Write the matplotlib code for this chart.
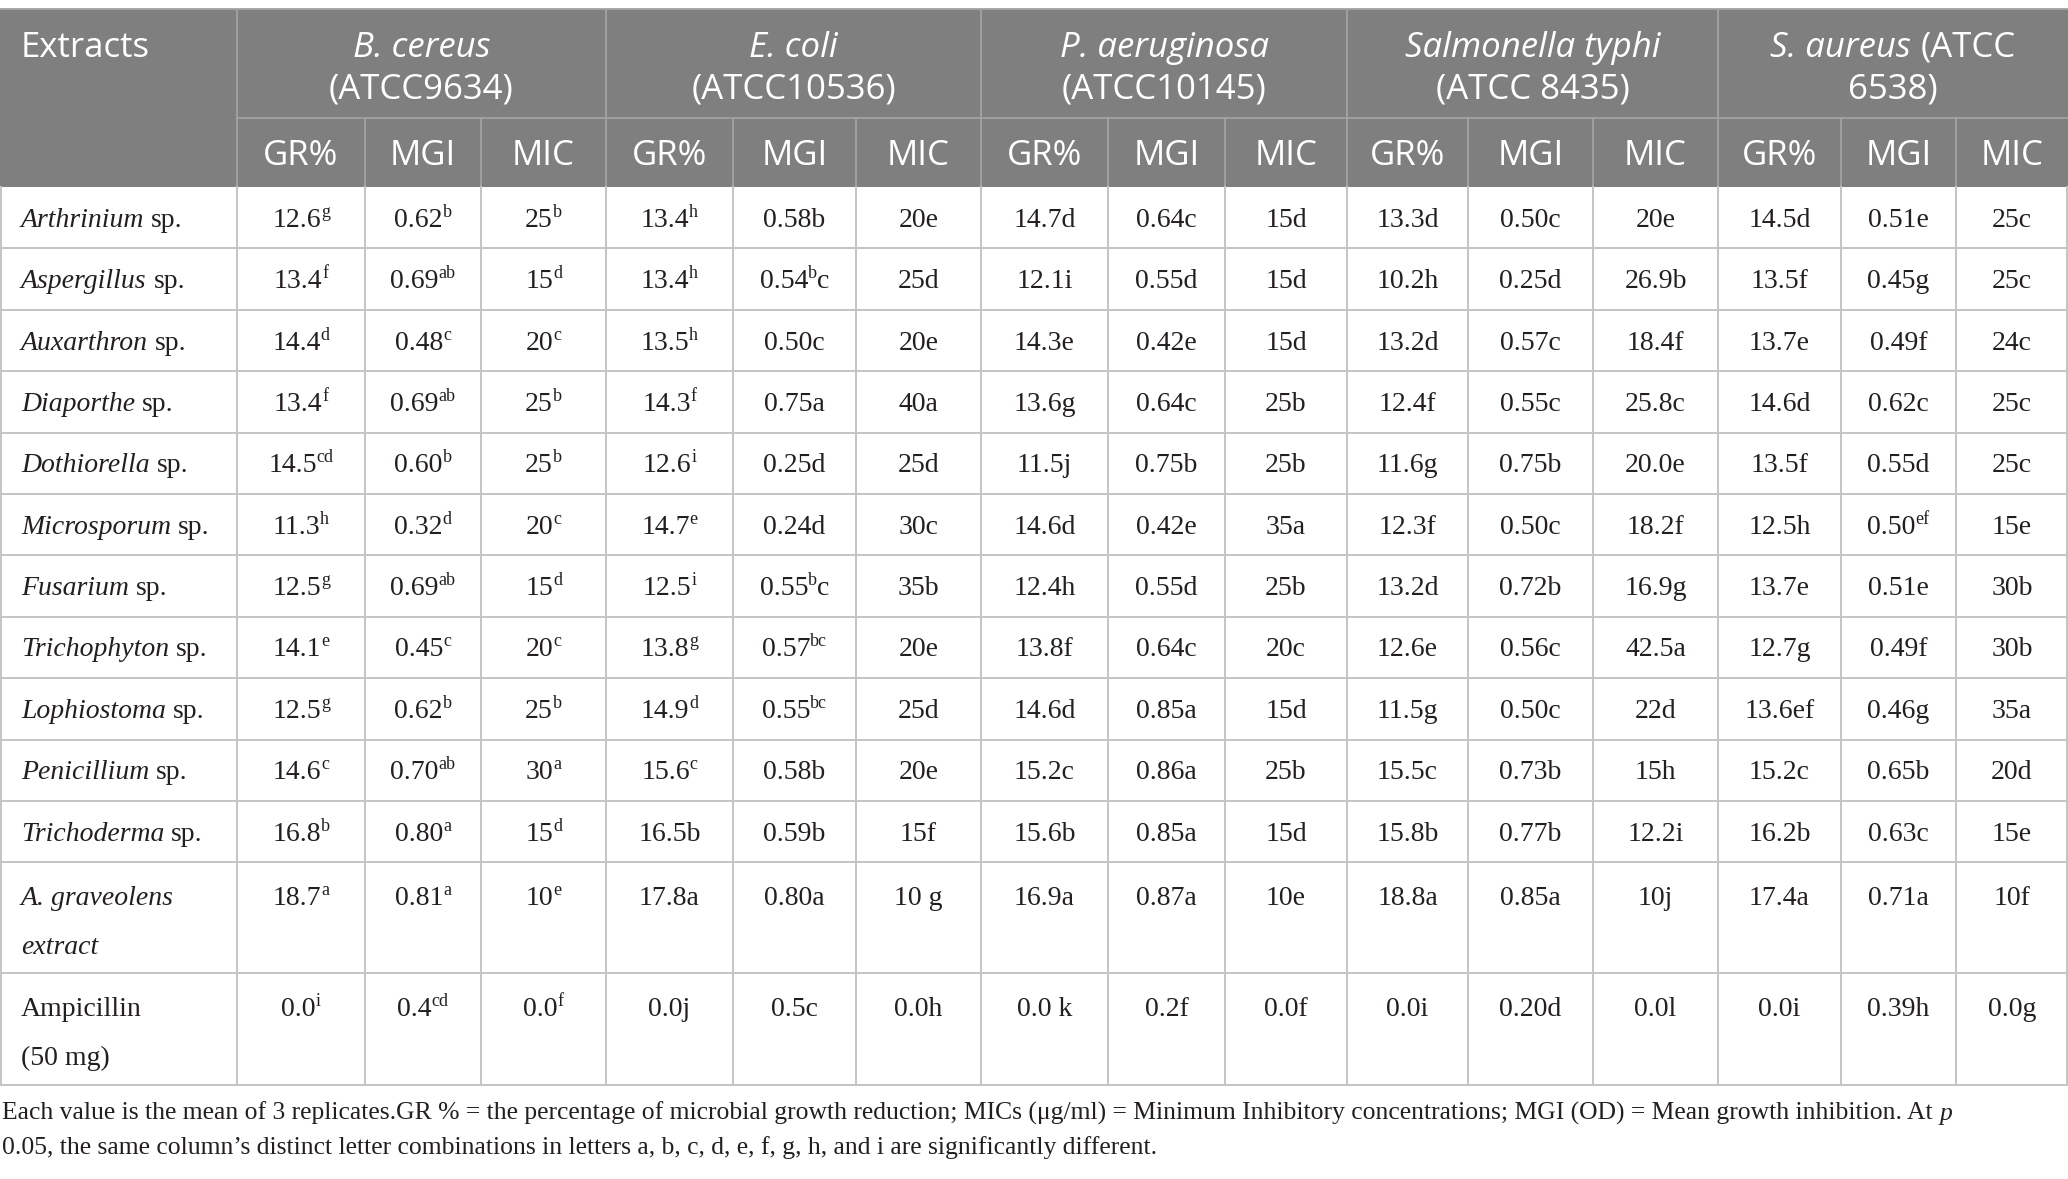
import re
import matplotlib
matplotlib.use("Agg")
import matplotlib.pyplot as plt

# ---- data (values as printed, ^{..} = superscript letters, *..* = italic) ----
extracts = ["*Arthrinium* sp.", "*Aspergillus* sp.", "*Auxarthron* sp.", "*Diaporthe* sp.",
            "*Dothiorella* sp.", "*Microsporum* sp.", "*Fusarium* sp.", "*Trichophyton* sp.",
            "*Lophiostoma* sp.", "*Penicillium* sp.", "*Trichoderma* sp.",
            "*A. graveolens*\n*extract*", "Ampicillin\n(50 mg)"]

organisms = [["*B. cereus*", "(ATCC9634)"],
             ["*E. coli*", "(ATCC10536)"],
             ["*P. aeruginosa*", "(ATCC10145)"],
             ["*Salmonella typhi*", "(ATCC 8435)"],
             ["*S. aureus* (ATCC", "6538)"]]
measures = ["GR%", "MGI", "MIC"]

b_cereus_gr = ["12.6^{g}", "13.4^{f}", "14.4^{d}", "13.4^{f}", "14.5^{cd}", "11.3^{h}", "12.5^{g}",
               "14.1^{e}", "12.5^{g}", "14.6^{c}", "16.8^{b}", "18.7^{a}", "0.0^{i}"]
b_cereus_mgi = ["0.62^{b}", "0.69^{ab}", "0.48^{c}", "0.69^{ab}", "0.60^{b}", "0.32^{d}", "0.69^{ab}",
                "0.45^{c}", "0.62^{b}", "0.70^{ab}", "0.80^{a}", "0.81^{a}", "0.4^{cd}"]
b_cereus_mic = ["25^{b}", "15^{d}", "20^{c}", "25^{b}", "25^{b}", "20^{c}", "15^{d}",
                "20^{c}", "25^{b}", "30^{a}", "15^{d}", "10^{e}", "0.0^{f}"]

e_coli_gr = ["13.4^{h}", "13.4^{h}", "13.5^{h}", "14.3^{f}", "12.6^{i}", "14.7^{e}", "12.5^{i}",
             "13.8^{g}", "14.9^{d}", "15.6^{c}", "16.5b", "17.8a", "0.0j"]
e_coli_mgi = ["0.58b", "0.54^{b}c", "0.50c", "0.75a", "0.25d", "0.24d", "0.55^{b}c",
              "0.57^{bc}", "0.55^{bc}", "0.58b", "0.59b", "0.80a", "0.5c"]
e_coli_mic = ["20e", "25d", "20e", "40a", "25d", "30c", "35b",
              "20e", "25d", "20e", "15f", "10 g", "0.0h"]

p_aerug_gr = ["14.7d", "12.1i", "14.3e", "13.6g", "11.5j", "14.6d", "12.4h",
              "13.8f", "14.6d", "15.2c", "15.6b", "16.9a", "0.0 k"]
p_aerug_mgi = ["0.64c", "0.55d", "0.42e", "0.64c", "0.75b", "0.42e", "0.55d",
               "0.64c", "0.85a", "0.86a", "0.85a", "0.87a", "0.2f"]
p_aerug_mic = ["15d", "15d", "15d", "25b", "25b", "35a", "25b",
               "20c", "15d", "25b", "15d", "10e", "0.0f"]

s_typhi_gr = ["13.3d", "10.2h", "13.2d", "12.4f", "11.6g", "12.3f", "13.2d",
              "12.6e", "11.5g", "15.5c", "15.8b", "18.8a", "0.0i"]
s_typhi_mgi = ["0.50c", "0.25d", "0.57c", "0.55c", "0.75b", "0.50c", "0.72b",
               "0.56c", "0.50c", "0.73b", "0.77b", "0.85a", "0.20d"]
s_typhi_mic = ["20e", "26.9b", "18.4f", "25.8c", "20.0e", "18.2f", "16.9g",
               "42.5a", "22d", "15h", "12.2i", "10j", "0.0l"]

s_aureus_gr = ["14.5d", "13.5f", "13.7e", "14.6d", "13.5f", "12.5h", "13.7e",
               "12.7g", "13.6ef", "15.2c", "16.2b", "17.4a", "0.0i"]
s_aureus_mgi = ["0.51e", "0.45g", "0.49f", "0.62c", "0.55d", "0.50^{ef}", "0.51e",
                "0.49f", "0.46g", "0.65b", "0.63c", "0.71a", "0.39h"]
s_aureus_mic = ["25c", "25c", "24c", "25c", "25c", "15e", "30b",
                "30b", "35a", "20d", "15e", "10f", "0.0g"]

columns = [b_cereus_gr, b_cereus_mgi, b_cereus_mic,
           e_coli_gr, e_coli_mgi, e_coli_mic,
           p_aerug_gr, p_aerug_mgi, p_aerug_mic,
           s_typhi_gr, s_typhi_mgi, s_typhi_mic,
           s_aureus_gr, s_aureus_mgi, s_aureus_mic]

footnote = ["Each value is the mean of 3 replicates.GR % = the percentage of microbial growth reduction; "
            "MICs (\u03bcg/ml) = Minimum Inhibitory concentrations; MGI (OD) = Mean growth inhibition. At *p*",
            "0.05, the same column\u2019s distinct letter combinations in letters a, b, c, d, e, f, g, h, "
            "and i are significantly different."]

# ---- layout (pixels) ----
W, H = 2068, 1179
col_x = [0, 237, 365, 481, 606, 733, 856, 981, 1108, 1225, 1347, 1468, 1593, 1718, 1841, 1956, 2068]
head_top, head_mid, head_bot = 9, 118, 187
row_h = [61.4] * 11 + [111, 112]

HEAD_GREY = "#7f7f7f"
HEAD_LINE = "#a3a3a3"
GRID = "#c4c4c4"
INK = "#231f20"
SERIF = "Liberation Serif"
SANS = "Open Sans"

fig = plt.figure(figsize=(W / 100, H / 100), dpi=100)
ax = fig.add_axes([0, 0, 1, 1])
ax.set_xlim(0, W)
ax.set_ylim(H, 0)
ax.axis("off")
renderer = fig.canvas.get_renderer()


def parse(s):
    runs = []
    for m in re.finditer(r"\^\{([^}]*)\}|\*([^*]*)\*|([^^*]+)", s):
        if m.group(1) is not None:
            runs.append((m.group(1), "sup"))
        elif m.group(2) is not None:
            runs.append((m.group(2), "it"))
        else:
            runs.append((m.group(3), "n"))
    return runs


def measure(s, kw):
    if s == "":
        return 0.0
    t1 = ax.text(0, 0, "|" + s + "|", **kw)
    t2 = ax.text(0, 0, "||", **kw)
    w = t1.get_window_extent(renderer).width - t2.get_window_extent(renderer).width
    t1.remove()
    t2.remove()
    return w


def draw_runs(x, y, s, align="center", family=SERIF, size=20, color=INK,
              sup_size=13, sup_rise=10):
    pieces = []
    for txt, kind in parse(s):
        kw = dict(family=family, size=size, color=color)
        dy = 0
        if kind == "it":
            kw["style"] = "italic"
        elif kind == "sup":
            kw["size"] = sup_size
            dy = -sup_rise
        pieces.append((txt, kw, measure(txt, kw), dy))
    total = sum(p[2] for p in pieces)
    x0 = x - total / 2 if align == "center" else x
    for txt, kw, w, dy in pieces:
        lead = len(txt) - len(txt.lstrip(" "))
        if txt.strip(" "):
            ax.text(x0 + measure(" " * lead, kw), y + dy, txt.strip(" "),
                    ha="left", va="baseline", **kw)
        x0 += w
    return total


# ---- header ----
ax.add_patch(plt.Rectangle((0, head_top), W, head_bot - head_top, color=HEAD_GREY, lw=0))
ax.plot([0, W], [head_top, head_top], color=HEAD_LINE, lw=1.3)
for i in range(5):
    xa, xb = col_x[1 + 3 * i], col_x[4 + 3 * i]
    ax.plot([xa, xa], [head_top, head_bot], color=HEAD_LINE, lw=1.3)
    ax.plot([xa, xb], [head_mid, head_mid], color=HEAD_LINE, lw=1.3)
    for k in (1, 2):
        xs = col_x[1 + 3 * i + k]
        ax.plot([xs, xs], [head_mid, head_bot], color=HEAD_LINE, lw=1.3)
    for j, line in enumerate(organisms[i]):
        draw_runs((xa + xb) / 2, 45 + 42 * j + 12, line, family=SANS, size=25, color="white")
    for k in range(3):
        xc = (col_x[1 + 3 * i + k] + col_x[2 + 3 * i + k]) / 2
        draw_runs(xc, 153 + 12, measures[k], family=SANS, size=25, color="white")
draw_runs(21, 45 + 12, "Extracts", align="left", family=SANS, size=25, color="white")

# ---- body ----
y = head_bot
for r, name in enumerate(extracts):
    h = row_h[r]
    lines = name.split("\n")
    if len(lines) == 1:
        yc = [y + h / 2]
    else:
        yc = [y + 34, y + 83]
    for j, line in enumerate(lines):
        draw_runs(21, yc[j] + 9, line, align="left")
    for c, col in enumerate(columns):
        xc = (col_x[c + 1] + col_x[c + 2]) / 2
        draw_runs(xc, yc[0] + 9, col[r])
    y += h
    ax.plot([0, W], [y, y], color=GRID, lw=1.4)
table_bot = y
for xs in col_x:
    xs = min(max(xs, 0.7), W - 0.7)
    ax.plot([xs, xs], [head_bot, table_bot], color=GRID, lw=1.4)

# ---- footnote: sized so the first line spans like the reference ----
fkw = dict(family=SERIF, size=16, color=INK)
fw = measure(footnote[0].replace("*", ""), fkw)
fsize = 16 * 1955 / fw
for j, line in enumerate(footnote):
    draw_runs(2, 1113 + 34 * j + 7, line, align="left", size=fsize)

fig.savefig("out.png", dpi=100, facecolor="white")
